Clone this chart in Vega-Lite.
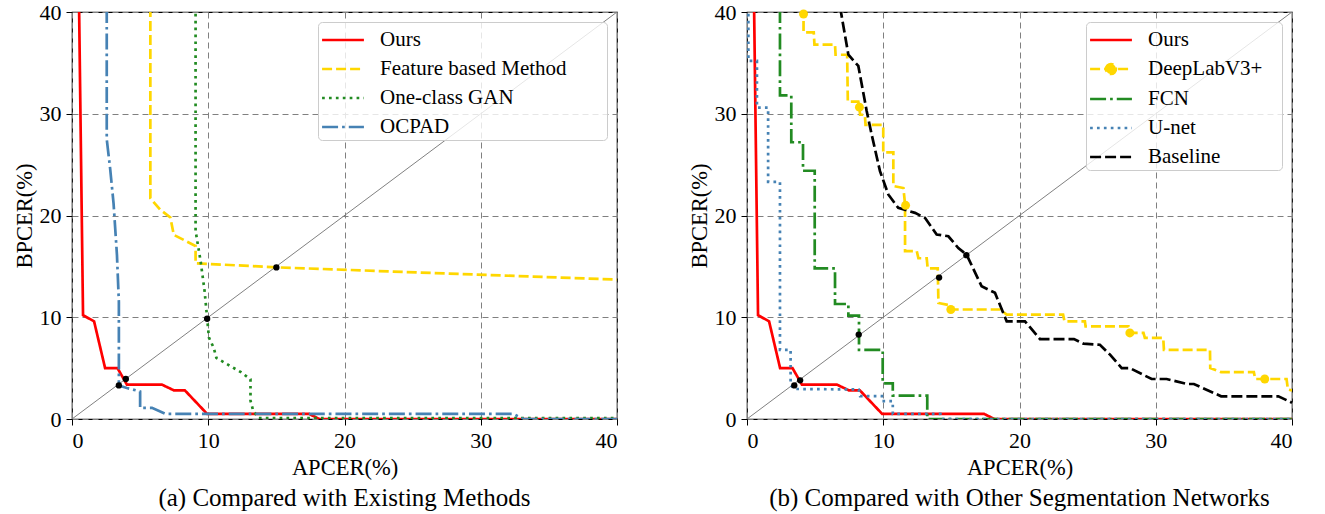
{
  "$schema": "https://vega.github.io/schema/vega-lite/v6.json",
  "padding": {"left": 12, "top": 0, "right": 0, "bottom": 0},
  "autosize": {"type": "pad"},
  "background": "white",
  "config": {
    "font": "Liberation Serif, Times New Roman, serif",
    "view": {"stroke": "black", "strokeWidth": 1.2},
    "axis": {
      "labelFont": "Liberation Serif, Times New Roman, serif", "titleFont": "Liberation Serif, Times New Roman, serif",
      "labelFontSize": 22, "titleFontSize": 22.5, "titleFontWeight": "normal",
      "labelColor": "black", "titleColor": "black", "tickColor": "black",
      "tickSize": 6, "tickWidth": 1, "labelPadding": 5, "domain": false,
      "gridColor": "#808080", "gridDash": [6, 4], "gridWidth": 1, "gridOpacity": 1
    },
    "axisX": {"titlePadding": 5},
    "axisY": {"titlePadding": 3},
    "legend": {
      "orient": "top-right", "offset": 10, "title": null,
      "fillColor": "rgba(255,255,255,0.8)", "strokeColor": "#cccccc", "cornerRadius": 4,
      "padding": 3, "rowPadding": 4, "labelLimit": 500,
      "symbolType": "M-1.55,0L1.55,0", "symbolSize": 729, "symbolStrokeWidth": 2.6,
      "symbolOffset": 7, "labelOffset": 22,
      "labelFont": "Liberation Serif, Times New Roman, serif", "labelFontSize": 21, "labelColor": "black"
    },
    "title": {"font": "Liberation Serif, Times New Roman, serif", "fontSize": 25, "fontWeight": "normal", "color": "black", "orient": "bottom", "offset": 7}
  },
  "datasets": {
    "diag": [{"x": 0, "y": 0}, {"x": 40, "y": 40}],
    "left": [
      {"s": "Ours", "i": 1, "x": 0.52, "y": 40.5}, {"s": "Ours", "i": 2, "x": 0.81, "y": 10.2}, {"s": "Ours", "i": 3, "x": 1.62, "y": 9.6}, {"s": "Ours", "i": 4, "x": 2.43, "y": 5.0}, {"s": "Ours", "i": 5, "x": 3.34, "y": 5.0}, {"s": "Ours", "i": 6, "x": 4.03, "y": 3.38}, {"s": "Ours", "i": 7, "x": 6.6, "y": 3.38}, {"s": "Ours", "i": 8, "x": 7.47, "y": 2.82}, {"s": "Ours", "i": 9, "x": 8.28, "y": 2.82}, {"s": "Ours", "i": 10, "x": 9.92, "y": 0.5}, {"s": "Ours", "i": 11, "x": 17.4, "y": 0.5}, {"s": "Ours", "i": 12, "x": 18.15, "y": 0}, {"s": "Ours", "i": 13, "x": 40, "y": 0},
      {"s": "Feature based Method", "i": 1, "x": 5.75, "y": 40.5}, {"s": "Feature based Method", "i": 2, "x": 5.75, "y": 21.7}, {"s": "Feature based Method", "i": 3, "x": 6.46, "y": 20.6}, {"s": "Feature based Method", "i": 4, "x": 7.22, "y": 19.8}, {"s": "Feature based Method", "i": 5, "x": 7.47, "y": 18.1}, {"s": "Feature based Method", "i": 6, "x": 9.07, "y": 17.0}, {"s": "Feature based Method", "i": 7, "x": 9.07, "y": 15.3}, {"s": "Feature based Method", "i": 8, "x": 15.1, "y": 14.9}, {"s": "Feature based Method", "i": 9, "x": 40, "y": 13.7},
      {"s": "One-class GAN", "i": 1, "x": 9.07, "y": 40.5}, {"s": "One-class GAN", "i": 2, "x": 9.07, "y": 18.5}, {"s": "One-class GAN", "i": 3, "x": 9.44, "y": 15.5}, {"s": "One-class GAN", "i": 4, "x": 9.73, "y": 12.6}, {"s": "One-class GAN", "i": 5, "x": 9.92, "y": 9.9}, {"s": "One-class GAN", "i": 6, "x": 10.05, "y": 8.0}, {"s": "One-class GAN", "i": 7, "x": 10.4, "y": 7.0}, {"s": "One-class GAN", "i": 8, "x": 10.6, "y": 6.0}, {"s": "One-class GAN", "i": 9, "x": 11.5, "y": 5.3}, {"s": "One-class GAN", "i": 10, "x": 12.4, "y": 4.6}, {"s": "One-class GAN", "i": 11, "x": 13.1, "y": 3.9}, {"s": "One-class GAN", "i": 12, "x": 13.1, "y": 1.8}, {"s": "One-class GAN", "i": 13, "x": 13.3, "y": 0.8}, {"s": "One-class GAN", "i": 14, "x": 13.7, "y": 0.1}, {"s": "One-class GAN", "i": 15, "x": 40, "y": 0.1},
      {"s": "OCPAD", "i": 1, "x": 2.55, "y": 40.5}, {"s": "OCPAD", "i": 2, "x": 2.55, "y": 27.5}, {"s": "OCPAD", "i": 3, "x": 2.8, "y": 24.6}, {"s": "OCPAD", "i": 4, "x": 3.05, "y": 21.2}, {"s": "OCPAD", "i": 5, "x": 3.3, "y": 16.1}, {"s": "OCPAD", "i": 6, "x": 3.44, "y": 11.5}, {"s": "OCPAD", "i": 7, "x": 3.44, "y": 5.0}, {"s": "OCPAD", "i": 8, "x": 3.44, "y": 3.3}, {"s": "OCPAD", "i": 9, "x": 4.03, "y": 3.05}, {"s": "OCPAD", "i": 10, "x": 5.0, "y": 2.7}, {"s": "OCPAD", "i": 11, "x": 5.0, "y": 1.1}, {"s": "OCPAD", "i": 12, "x": 5.87, "y": 1.1}, {"s": "OCPAD", "i": 13, "x": 6.85, "y": 0.5}, {"s": "OCPAD", "i": 14, "x": 32.4, "y": 0.5}, {"s": "OCPAD", "i": 15, "x": 33.1, "y": 0}, {"s": "OCPAD", "i": 16, "x": 40, "y": 0}
    ],
    "eerL": [{"x": 3.44, "y": 3.3}, {"x": 3.95, "y": 3.93}, {"x": 9.92, "y": 9.85}, {"x": 15.0, "y": 14.9}],
    "right": [
      {"s": "Ours", "i": 1, "x": 0.52, "y": 40.5}, {"s": "Ours", "i": 2, "x": 0.81, "y": 10.2}, {"s": "Ours", "i": 3, "x": 1.62, "y": 9.6}, {"s": "Ours", "i": 4, "x": 2.43, "y": 5.0}, {"s": "Ours", "i": 5, "x": 3.34, "y": 5.0}, {"s": "Ours", "i": 6, "x": 4.03, "y": 3.38}, {"s": "Ours", "i": 7, "x": 6.6, "y": 3.38}, {"s": "Ours", "i": 8, "x": 7.47, "y": 2.82}, {"s": "Ours", "i": 9, "x": 8.28, "y": 2.82}, {"s": "Ours", "i": 10, "x": 9.92, "y": 0.5}, {"s": "Ours", "i": 11, "x": 17.4, "y": 0.5}, {"s": "Ours", "i": 12, "x": 18.15, "y": 0}, {"s": "Ours", "i": 13, "x": 40, "y": 0},
      {"s": "DeepLabV3+", "i": 1, "x": 4.15, "y": 40.5}, {"s": "DeepLabV3+", "i": 2, "x": 4.15, "y": 38.0}, {"s": "DeepLabV3+", "i": 3, "x": 4.9, "y": 38.0}, {"s": "DeepLabV3+", "i": 4, "x": 4.95, "y": 36.8}, {"s": "DeepLabV3+", "i": 5, "x": 6.46, "y": 36.8}, {"s": "DeepLabV3+", "i": 6, "x": 6.5, "y": 35.8}, {"s": "DeepLabV3+", "i": 7, "x": 7.35, "y": 35.8}, {"s": "DeepLabV3+", "i": 8, "x": 7.4, "y": 31.2}, {"s": "DeepLabV3+", "i": 9, "x": 8.17, "y": 31.2}, {"s": "DeepLabV3+", "i": 10, "x": 8.25, "y": 30.6}, {"s": "DeepLabV3+", "i": 11, "x": 8.3, "y": 29.9}, {"s": "DeepLabV3+", "i": 12, "x": 8.65, "y": 29.9}, {"s": "DeepLabV3+", "i": 13, "x": 8.7, "y": 28.9}, {"s": "DeepLabV3+", "i": 14, "x": 10.0, "y": 28.9}, {"s": "DeepLabV3+", "i": 15, "x": 10.0, "y": 26.2}, {"s": "DeepLabV3+", "i": 16, "x": 10.74, "y": 26.2}, {"s": "DeepLabV3+", "i": 17, "x": 10.74, "y": 22.9}, {"s": "DeepLabV3+", "i": 18, "x": 11.48, "y": 22.7}, {"s": "DeepLabV3+", "i": 19, "x": 11.6, "y": 21.1}, {"s": "DeepLabV3+", "i": 20, "x": 11.6, "y": 16.5}, {"s": "DeepLabV3+", "i": 21, "x": 12.46, "y": 16.5}, {"s": "DeepLabV3+", "i": 22, "x": 12.58, "y": 15.8}, {"s": "DeepLabV3+", "i": 23, "x": 13.19, "y": 15.8}, {"s": "DeepLabV3+", "i": 24, "x": 13.26, "y": 14.8}, {"s": "DeepLabV3+", "i": 25, "x": 14.0, "y": 14.8}, {"s": "DeepLabV3+", "i": 26, "x": 14.05, "y": 11.4}, {"s": "DeepLabV3+", "i": 27, "x": 14.78, "y": 11.2}, {"s": "DeepLabV3+", "i": 28, "x": 14.9, "y": 10.76}, {"s": "DeepLabV3+", "i": 29, "x": 18.6, "y": 10.76}, {"s": "DeepLabV3+", "i": 30, "x": 19.06, "y": 10.26}, {"s": "DeepLabV3+", "i": 31, "x": 23.2, "y": 10.26}, {"s": "DeepLabV3+", "i": 32, "x": 23.3, "y": 9.6}, {"s": "DeepLabV3+", "i": 33, "x": 24.8, "y": 9.6}, {"s": "DeepLabV3+", "i": 34, "x": 24.85, "y": 9.1}, {"s": "DeepLabV3+", "i": 35, "x": 28.0, "y": 9.1}, {"s": "DeepLabV3+", "i": 36, "x": 28.1, "y": 8.46}, {"s": "DeepLabV3+", "i": 37, "x": 29.1, "y": 8.46}, {"s": "DeepLabV3+", "i": 38, "x": 29.2, "y": 7.97}, {"s": "DeepLabV3+", "i": 39, "x": 30.55, "y": 7.97}, {"s": "DeepLabV3+", "i": 40, "x": 30.6, "y": 6.8}, {"s": "DeepLabV3+", "i": 41, "x": 33.98, "y": 6.8}, {"s": "DeepLabV3+", "i": 42, "x": 34.0, "y": 5.0}, {"s": "DeepLabV3+", "i": 43, "x": 34.8, "y": 4.6}, {"s": "DeepLabV3+", "i": 44, "x": 37.2, "y": 4.6}, {"s": "DeepLabV3+", "i": 45, "x": 37.3, "y": 3.93}, {"s": "DeepLabV3+", "i": 46, "x": 39.6, "y": 3.93}, {"s": "DeepLabV3+", "i": 47, "x": 39.7, "y": 2.9}, {"s": "DeepLabV3+", "i": 48, "x": 40, "y": 2.8},
      {"s": "FCN", "i": 1, "x": 2.42, "y": 40.5}, {"s": "FCN", "i": 2, "x": 2.42, "y": 31.8}, {"s": "FCN", "i": 3, "x": 3.25, "y": 31.8}, {"s": "FCN", "i": 4, "x": 3.25, "y": 27.2}, {"s": "FCN", "i": 5, "x": 4.11, "y": 27.2}, {"s": "FCN", "i": 6, "x": 4.11, "y": 24.4}, {"s": "FCN", "i": 7, "x": 4.97, "y": 24.4}, {"s": "FCN", "i": 8, "x": 4.97, "y": 14.8}, {"s": "FCN", "i": 9, "x": 6.46, "y": 14.8}, {"s": "FCN", "i": 10, "x": 6.46, "y": 11.3}, {"s": "FCN", "i": 11, "x": 7.44, "y": 11.3}, {"s": "FCN", "i": 12, "x": 7.44, "y": 10.15}, {"s": "FCN", "i": 13, "x": 8.22, "y": 10.15}, {"s": "FCN", "i": 14, "x": 8.22, "y": 6.8}, {"s": "FCN", "i": 15, "x": 9.96, "y": 6.8}, {"s": "FCN", "i": 16, "x": 9.96, "y": 3.5}, {"s": "FCN", "i": 17, "x": 10.7, "y": 3.5}, {"s": "FCN", "i": 18, "x": 10.7, "y": 2.3}, {"s": "FCN", "i": 19, "x": 13.23, "y": 2.3}, {"s": "FCN", "i": 20, "x": 13.23, "y": 0}, {"s": "FCN", "i": 21, "x": 40, "y": 0},
      {"s": "U-net", "i": 1, "x": 0.1, "y": 40.5}, {"s": "U-net", "i": 2, "x": 0.1, "y": 35.2}, {"s": "U-net", "i": 3, "x": 0.73, "y": 35.2}, {"s": "U-net", "i": 4, "x": 0.73, "y": 30.6}, {"s": "U-net", "i": 5, "x": 1.55, "y": 30.6}, {"s": "U-net", "i": 6, "x": 1.55, "y": 23.3}, {"s": "U-net", "i": 7, "x": 2.42, "y": 23.3}, {"s": "U-net", "i": 8, "x": 2.42, "y": 6.8}, {"s": "U-net", "i": 9, "x": 3.2, "y": 6.8}, {"s": "U-net", "i": 10, "x": 3.2, "y": 3.3}, {"s": "U-net", "i": 11, "x": 3.5, "y": 2.95}, {"s": "U-net", "i": 12, "x": 8.2, "y": 2.9}, {"s": "U-net", "i": 13, "x": 8.3, "y": 2.25}, {"s": "U-net", "i": 14, "x": 9.9, "y": 2.25}, {"s": "U-net", "i": 15, "x": 9.9, "y": 1.75}, {"s": "U-net", "i": 16, "x": 10.7, "y": 1.75}, {"s": "U-net", "i": 17, "x": 10.7, "y": 0.5}, {"s": "U-net", "i": 18, "x": 14.2, "y": 0.5}, {"s": "U-net", "i": 19, "x": 14.3, "y": 0}, {"s": "U-net", "i": 20, "x": 40, "y": 0},
      {"s": "Baseline", "i": 1, "x": 6.83, "y": 40.5}, {"s": "Baseline", "i": 2, "x": 7.44, "y": 35.8}, {"s": "Baseline", "i": 3, "x": 8.17, "y": 34.7}, {"s": "Baseline", "i": 4, "x": 8.78, "y": 30.3}, {"s": "Baseline", "i": 5, "x": 9.15, "y": 27.96}, {"s": "Baseline", "i": 6, "x": 9.76, "y": 24.36}, {"s": "Baseline", "i": 7, "x": 10.37, "y": 22.07}, {"s": "Baseline", "i": 8, "x": 11.1, "y": 20.75}, {"s": "Baseline", "i": 9, "x": 12.33, "y": 20.26}, {"s": "Baseline", "i": 10, "x": 13.06, "y": 19.77}, {"s": "Baseline", "i": 11, "x": 13.92, "y": 18.13}, {"s": "Baseline", "i": 12, "x": 14.78, "y": 17.96}, {"s": "Baseline", "i": 13, "x": 15.51, "y": 16.8}, {"s": "Baseline", "i": 14, "x": 16.12, "y": 16.15}, {"s": "Baseline", "i": 15, "x": 17.22, "y": 13.04}, {"s": "Baseline", "i": 16, "x": 18.2, "y": 12.4}, {"s": "Baseline", "i": 17, "x": 19.06, "y": 9.6}, {"s": "Baseline", "i": 18, "x": 20.4, "y": 9.6}, {"s": "Baseline", "i": 19, "x": 21.5, "y": 7.86}, {"s": "Baseline", "i": 20, "x": 24.0, "y": 7.86}, {"s": "Baseline", "i": 21, "x": 24.7, "y": 7.4}, {"s": "Baseline", "i": 22, "x": 25.9, "y": 7.3}, {"s": "Baseline", "i": 23, "x": 26.66, "y": 6.3}, {"s": "Baseline", "i": 24, "x": 27.5, "y": 5.0}, {"s": "Baseline", "i": 25, "x": 28.1, "y": 5.0}, {"s": "Baseline", "i": 26, "x": 29.7, "y": 3.93}, {"s": "Baseline", "i": 27, "x": 30.8, "y": 3.93}, {"s": "Baseline", "i": 28, "x": 32.3, "y": 3.44}, {"s": "Baseline", "i": 29, "x": 32.8, "y": 3.44}, {"s": "Baseline", "i": 30, "x": 34.8, "y": 2.23}, {"s": "Baseline", "i": 31, "x": 39.0, "y": 2.23}, {"s": "Baseline", "i": 32, "x": 40, "y": 1.6}
    ],
    "eerR": [{"x": 3.47, "y": 3.3}, {"x": 3.9, "y": 3.8}, {"x": 8.2, "y": 8.3}, {"x": 14.1, "y": 13.9}, {"x": 16.1, "y": 16.1}],
    "markers": [{"x": 4.15, "y": 39.8}, {"x": 8.25, "y": 30.65}, {"x": 11.64, "y": 21.0}, {"x": 14.96, "y": 10.76}, {"x": 28.1, "y": 8.46}, {"x": 38.0, "y": 3.93}]
  },
  "spacing": 67,
  "hconcat": [
    {
      "width": 545, "height": 407,
      "title": {"text": "(a) Compared with Existing Methods"},
      "encoding": {
        "x": {"field": "x", "type": "quantitative", "scale": {"domain": [0, 40], "nice": false}, "axis": {"title": "APCER(%)", "values": [0, 10, 20, 30, 40]}},
        "y": {"field": "y", "type": "quantitative", "scale": {"domain": [0, 40], "nice": false}, "axis": {"title": "BPCER(%)", "values": [0, 10, 20, 30, 40]}}
      },
      "layer": [
        {"data": {"name": "diag"}, "mark": {"type": "line", "color": "#808080", "strokeWidth": 1}},
        {"data": {"name": "left"}, "mark": {"type": "line", "clip": true, "strokeWidth": 2.7},
         "encoding": {
           "order": {"field": "i", "type": "quantitative"},
           "color": {"field": "s", "type": "nominal", "scale": {"domain": ["Ours", "Feature based Method", "One-class GAN", "OCPAD"], "range": ["#ff0000", "#ffd700", "#228b22", "#4682b4"]}, "legend": {"labelExpr": "datum.label + '\u00a0\u00a0\u00a0\u00a0\u00a0\u00a0\u00a0\u200d'"}},
           "strokeDash": {"field": "s", "type": "nominal", "scale": {"domain": ["Ours", "Feature based Method", "One-class GAN", "OCPAD"], "range": [[1, 0], [10, 4], [2.7, 4.2], [16, 4, 2.7, 4]]}, "legend": {"labelExpr": "datum.label + '\u00a0\u00a0\u00a0\u00a0\u00a0\u00a0\u00a0\u200d'"}}
         }},
        {"data": {"name": "eerL"}, "mark": {"type": "point", "filled": true, "color": "black", "size": 40, "opacity": 1}}
      ]
    },
    {
      "width": 545, "height": 407,
      "title": {"text": "(b) Compared with Other Segmentation Networks"},
      "encoding": {
        "x": {"field": "x", "type": "quantitative", "scale": {"domain": [0, 40], "nice": false}, "axis": {"title": "APCER(%)", "values": [0, 10, 20, 30, 40]}},
        "y": {"field": "y", "type": "quantitative", "scale": {"domain": [0, 40], "nice": false}, "axis": {"title": "BPCER(%)", "values": [0, 10, 20, 30, 40]}}
      },
      "layer": [
        {"data": {"name": "diag"}, "mark": {"type": "line", "color": "#808080", "strokeWidth": 1}},
        {"data": {"name": "right"}, "mark": {"type": "line", "clip": true, "strokeWidth": 2.7},
         "encoding": {
           "order": {"field": "i", "type": "quantitative"},
           "color": {"field": "s", "type": "nominal", "scale": {"domain": ["Ours", "DeepLabV3+", "FCN", "U-net", "Baseline"], "range": ["#ff0000", "#ffd700", "#228b22", "#4682b4", "#000000"]},
             "legend": {"labelExpr": "datum.label + '\u00a0\u00a0\u00a0\u200d'",
               "symbolFillColor": "#ffd700",
               "encode": {"symbols": {"update": {"shape": {"signal": "datum.value === 'DeepLabV3+' ? 'M-1.55,0L1.55,0M-0.37,0A0.37,0.37 0 1,1 0.37,0A0.37,0.37 0 1,1 -0.37,0Z' : 'M-1.55,0L1.55,0'"}, "fill": {"value": "#ffd700"}, "fillOpacity": {"value": 1}}}}}},
           "strokeDash": {"field": "s", "type": "nominal", "scale": {"domain": ["Ours", "DeepLabV3+", "FCN", "U-net", "Baseline"], "range": [[1, 0], [10, 4], [16, 4, 2.7, 4], [2.7, 4.2], [11, 4]]},
             "legend": {"labelExpr": "datum.label + '\u00a0\u00a0\u00a0\u200d'",
               "symbolFillColor": "#ffd700",
               "encode": {"symbols": {"update": {"shape": {"signal": "datum.value === 'DeepLabV3+' ? 'M-1.55,0L1.55,0M-0.37,0A0.37,0.37 0 1,1 0.37,0A0.37,0.37 0 1,1 -0.37,0Z' : 'M-1.55,0L1.55,0'"}, "fill": {"value": "#ffd700"}, "fillOpacity": {"value": 1}}}}}}
         }},
        {"data": {"name": "markers"}, "mark": {"type": "point", "filled": true, "color": "#ffd700", "size": 80, "opacity": 1}},
        {"data": {"name": "eerR"}, "mark": {"type": "point", "filled": true, "color": "black", "size": 40, "opacity": 1}}
      ]
    }
  ],
  "resolve": {"scale": {"color": "independent", "strokeDash": "independent"}}
}
